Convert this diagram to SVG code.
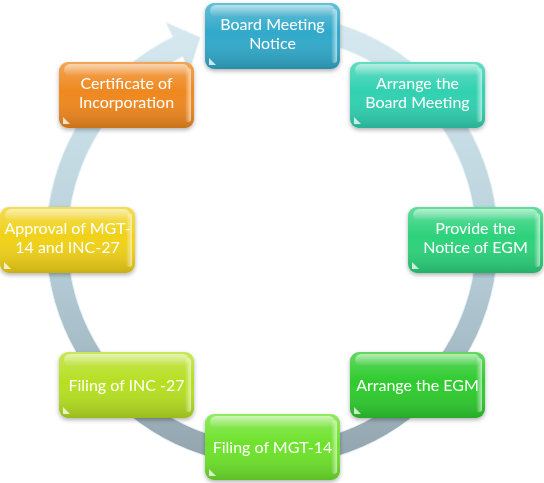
<svg xmlns="http://www.w3.org/2000/svg" xmlns:xlink="http://www.w3.org/1999/xlink" width="544" height="483" viewBox="0 0 544 483">
<style>
.box{stroke:none}
.lbl{font-family:Lato,"Open Sans","Liberation Sans",sans-serif;font-size:16px;fill:#ffffff;text-anchor:middle}
</style>
<defs>
<linearGradient id="ringG" x1="0" y1="0" x2="0" y2="1">
<stop offset="0" stop-color="#d8e9f0"/>
<stop offset="0.5" stop-color="#b9d2dc"/>
<stop offset="1" stop-color="#92a4ad"/>
</linearGradient>
<linearGradient id="shade" x1="0" y1="0" x2="0" y2="1">
<stop offset="0" stop-color="#ffffff" stop-opacity="0.25"/>
<stop offset="0.45" stop-color="#ffffff" stop-opacity="0"/>
<stop offset="1" stop-color="#000000" stop-opacity="0.16"/>
</linearGradient>
<linearGradient id="hl" x1="0" y1="0" x2="0" y2="1">
<stop offset="0" stop-color="#ffffff" stop-opacity="0.55"/>
<stop offset="1" stop-color="#ffffff" stop-opacity="0"/>
</linearGradient>
<linearGradient id="rh" x1="0" y1="0" x2="1" y2="0">
<stop offset="0" stop-color="#ffffff" stop-opacity="0"/>
<stop offset="1" stop-color="#ffffff" stop-opacity="0.6"/>
</linearGradient>
<filter id="sh" x="-10%" y="-10%" width="120%" height="130%">
<feDropShadow dx="0" dy="2" stdDeviation="2" flood-color="#000" flood-opacity="0.3"/>
</filter>
<g id="gloss">
<rect x="0" y="0" width="135" height="66" rx="9" fill="url(#shade)"/>
<rect x="5" y="2" width="125" height="12" rx="6" fill="url(#hl)"/>
<rect x="126" y="6" width="6" height="54" rx="3" fill="url(#rh)"/>
<path d="M4 62 L4 55 L11 62 Z" fill="#ffffff" opacity="0.75"/>
</g>
</defs>

<g id="connectors">
<path d="M272 14 A226 226 0 1 1 172.9 36.9 L165.9 22.5 L200.2 37.3 L189.6 71 L182.6 56.6 A204 204 0 1 0 272 36 Z" fill="url(#ringG)" stroke="#e9f3f6" stroke-width="1"/>
</g>

<g id="n1" transform="translate(205,3)" filter="url(#sh)">
<rect class="box" width="135" height="66" rx="9" fill="#31a9ca"/>
<use href="#gloss"/>
<text class="lbl" x="67.5" y="27">Board Meeting</text>
<text class="lbl" x="67.5" y="46">Notice</text>
</g>
<g id="n2" transform="translate(350,62)" filter="url(#sh)">
<rect class="box" width="135" height="66" rx="9" fill="#31d1b1"/>
<use href="#gloss"/>
<text class="lbl" x="67.5" y="27">Arrange the</text>
<text class="lbl" x="67.5" y="46">Board Meeting</text>
</g>
<g id="n3" transform="translate(408,207)" filter="url(#sh)">
<rect class="box" width="135" height="66" rx="9" fill="#2dd27b"/>
<use href="#gloss"/>
<text class="lbl" x="67.5" y="27">Provide the</text>
<text class="lbl" x="67.5" y="46">Notice of EGM</text>
</g>
<g id="n4" transform="translate(350,352)" filter="url(#sh)">
<rect class="box" width="135" height="66" rx="9" fill="#2fcb2f"/>
<use href="#gloss"/>
<text class="lbl" x="67.5" y="38.5">Arrange the EGM</text>
</g>
<g id="n5" transform="translate(205,414)" filter="url(#sh)">
<rect class="box" width="135" height="66" rx="9" fill="#6ee22c"/>
<use href="#gloss"/>
<text class="lbl" x="67.5" y="38.5">Filing of MGT-14</text>
</g>
<g id="n6" transform="translate(59,352)" filter="url(#sh)">
<rect class="box" width="135" height="66" rx="9" fill="#b6df22"/>
<use href="#gloss"/>
<text class="lbl" x="67.5" y="38.5">Filing of INC -27</text>
</g>
<g id="n7" transform="translate(0,207)" filter="url(#sh)">
<rect class="box" width="135" height="66" rx="9" fill="#f0d119"/>
<use href="#gloss"/>
<text class="lbl" x="67.5" y="27">Approval of MGT-</text>
<text class="lbl" x="67.5" y="46">14 and INC-27</text>
</g>
<g id="n8" transform="translate(59,62)" filter="url(#sh)">
<rect class="box" width="135" height="66" rx="9" fill="#ef881f"/>
<use href="#gloss"/>
<text class="lbl" x="67.5" y="27">Certificate of</text>
<text class="lbl" x="67.5" y="46">Incorporation</text>
</g>
</svg>
